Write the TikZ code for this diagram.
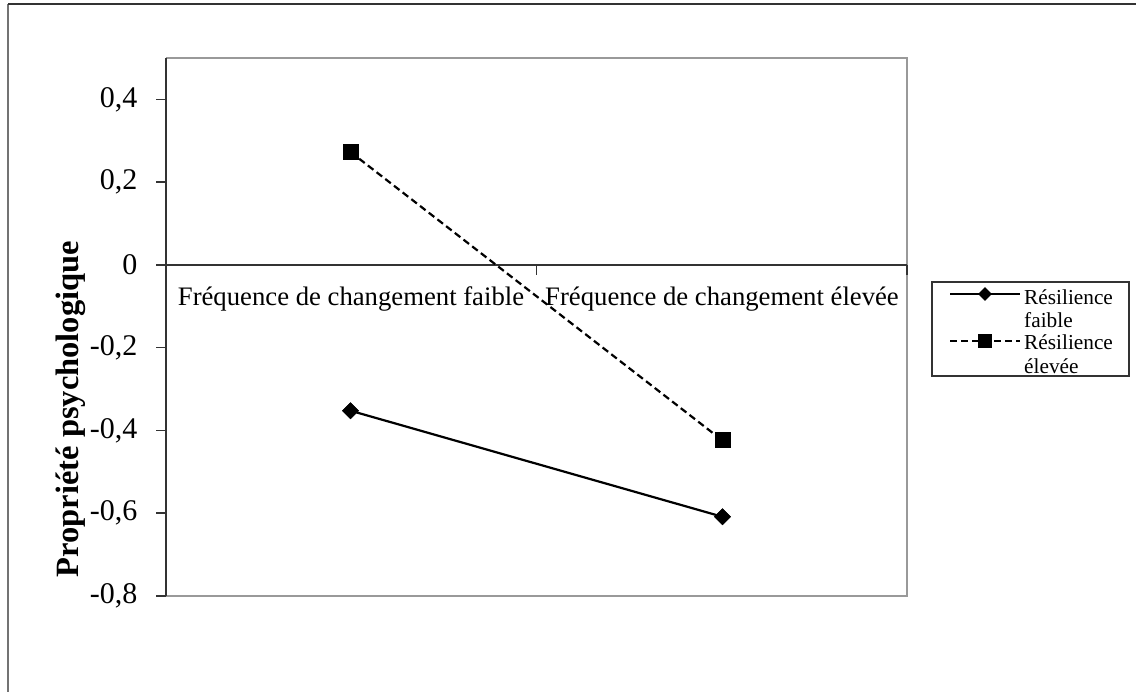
\documentclass[tikz,border=0pt]{standalone}
\usepackage{fontspec}
\setmainfont{Liberation Serif}
\usetikzlibrary{shapes.geometric}
\begin{document}
\begin{tikzpicture}[x=1pt,y=-1pt,
  ticklab/.style={anchor=east,font=\fontsize{30}{33}\selectfont,inner sep=0pt},
  catlab/.style={anchor=center,font=\fontsize{26.7}{30}\selectfont,inner sep=0pt},
  legtext/.style={anchor=west,font=\fontsize{21.3}{23.5}\selectfont,inner sep=0pt,align=left},
  sqmark/.style={fill=black,draw=none,minimum size=16pt,inner sep=0pt,rectangle},
  dmmark/.style={fill=black,draw=none,minimum size=17pt,inner sep=0pt,diamond,aspect=1},
  solidser/.style={line width=2.2pt,black},
  dashser/.style={line width=2.2pt,black,dash pattern=on 7pt off 4pt},
  axisline/.style={line width=1.4pt,black!80},
  frameline/.style={line width=2pt,black!40}]
\useasboundingbox (0,0) rectangle (1136,692);
\fill[white] (0,0) rectangle (1136,692);
% outer frame
\draw[line width=1.8pt,black!55] (8,4) -- (8,692);
\draw[line width=1.3pt,black!80] (8,4) -- (1136,4);
% plot area
\draw[frameline] (166,58) -- (907,58) -- (907,596) -- (166,596);
\draw[axisline] (166,58) -- (166,596);
% y ticks
\foreach \v/\lab [count=\i from 0] in {0.4/{0,4},0.2/{0,2},0/{0},-0.2/{-0,2},-0.4/{-0,4},-0.6/{-0,6},-0.8/{-0,8}} {
  \pgfmathsetmacro{\yy}{264.9-413.8*\v}
  \draw[axisline] (156,\yy) -- (166,\yy);
  \node[ticklab] (t\i) at (137.5,\yy) {\lab};
}
% x axis at 0
\draw[axisline] (166,264.9) -- (907,264.9);
\draw[axisline] (536.5,264.9) -- (536.5,274.9);
\draw[axisline] (907,264.9) -- (907,274.9);
% category labels
\node[catlab] (c1) at (351,299) {Fréquence de changement faible};
\node[catlab] (c2) at (722,299) {Fréquence de changement élevée};
% y title
\node[rotate=90,font=\fontsize{32.5}{35}\selectfont\bfseries,inner sep=0pt] (yt) at (71,409) {Propriété psychologique};
% data
\node[dmmark] (d1) at (350.5,410.7) {};
\node[dmmark] (d2) at (722.5,516.8) {};
\node[sqmark] (s1) at (350.5,152.0) {};
\node[sqmark] (s2) at (722.5,440.5) {};
\draw[solidser] (d1.center) -- (d2.center);
\draw[dashser] (s1.center) -- (s2.center);
\node[dmmark] at (d1) {};
\node[dmmark] at (d2) {};
\node[sqmark] at (s1) {};
\node[sqmark] at (s2) {};
% legend
\node[draw=black!80,line width=1.3pt,minimum width=197pt,minimum height=94pt,inner sep=0pt] (leg) at (1030.5,329) {};
\coordinate (la1) at (950,294);
\coordinate (lb1) at (1020,294);
\coordinate (la2) at (950,341);
\coordinate (lb2) at (1020,341);
\draw[solidser] (la1) -- (lb1);
\draw[dashser] (la2) -- (lb2);
\node[dmmark,minimum size=14pt] (ld) at (985,294) {};
\node[sqmark,minimum size=14pt] (ls) at (985,341) {};
\node[legtext] (lt1) at (1024,308.5) {Résilience\\faible};
\node[legtext] (lt2) at (1024,354) {Résilience\\élevée};
\end{tikzpicture}
\end{document}
